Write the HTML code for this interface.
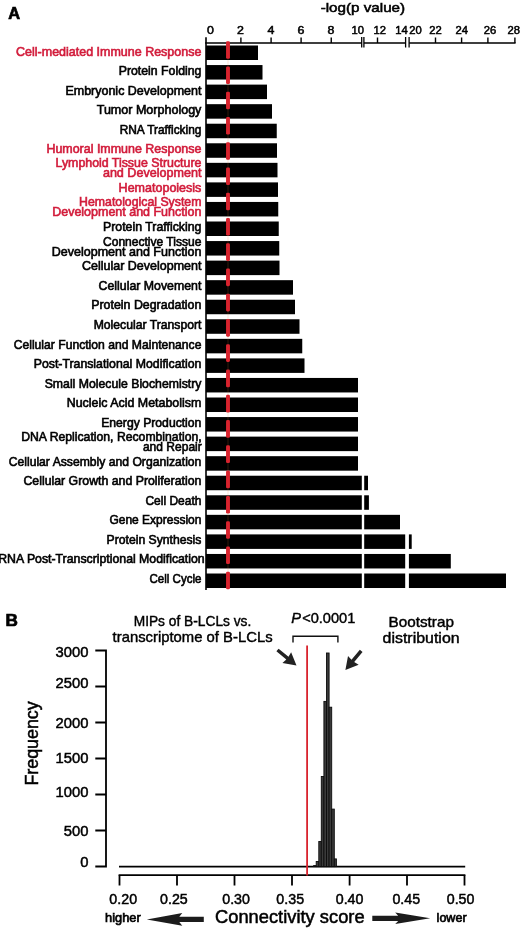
<!DOCTYPE html>
<html><head><meta charset="utf-8"><title>Figure</title>
<style>
html,body{margin:0;padding:0;background:#fff;}
body{width:520px;height:928px;overflow:hidden;}
svg{display:block;will-change:transform;}
text{font-family:"Liberation Sans",sans-serif;fill:#000;}
.lb{stroke:#000;stroke-width:0.6px;}
.r{fill:#d21c3b;stroke:#d21c3b;}
.sb{stroke:#000;stroke-width:0.42px;}
.sb2{stroke:#000;stroke-width:0.55px;}
.bd{stroke:#000;stroke-width:0.7px;}
.sb4{stroke:#000;stroke-width:0.65px;}
.sb3{stroke:#000;stroke-width:0.5px;}
</style></head>
<body>
<svg width="520" height="928" viewBox="0 0 520 928">
<rect width="520" height="928" fill="#fff"/>
<rect x="206.0" y="45.50" width="52.00" height="14.5" fill="#000"/>
<rect x="206.0" y="65.06" width="56.50" height="14.5" fill="#000"/>
<rect x="206.0" y="84.61" width="61.00" height="14.5" fill="#000"/>
<rect x="206.0" y="104.17" width="66.00" height="14.5" fill="#000"/>
<rect x="206.0" y="123.72" width="70.75" height="14.5" fill="#000"/>
<rect x="206.0" y="143.28" width="71.00" height="14.5" fill="#000"/>
<rect x="206.0" y="162.84" width="71.50" height="14.5" fill="#000"/>
<rect x="206.0" y="182.39" width="72.00" height="14.5" fill="#000"/>
<rect x="206.0" y="201.95" width="72.25" height="14.5" fill="#000"/>
<rect x="206.0" y="221.50" width="72.75" height="14.5" fill="#000"/>
<rect x="206.0" y="241.06" width="73.25" height="14.5" fill="#000"/>
<rect x="206.0" y="260.62" width="73.50" height="14.5" fill="#000"/>
<rect x="206.0" y="280.17" width="87.00" height="14.5" fill="#000"/>
<rect x="206.0" y="299.73" width="89.00" height="14.5" fill="#000"/>
<rect x="206.0" y="319.28" width="93.50" height="14.5" fill="#000"/>
<rect x="206.0" y="338.84" width="96.25" height="14.5" fill="#000"/>
<rect x="206.0" y="358.40" width="98.50" height="14.5" fill="#000"/>
<rect x="206.0" y="377.95" width="152.00" height="14.5" fill="#000"/>
<rect x="206.0" y="397.51" width="152.00" height="14.5" fill="#000"/>
<rect x="206.0" y="417.06" width="152.00" height="14.5" fill="#000"/>
<rect x="206.0" y="436.62" width="152.00" height="14.5" fill="#000"/>
<rect x="206.0" y="456.18" width="152.00" height="14.5" fill="#000"/>
<rect x="206.0" y="475.73" width="162.00" height="14.5" fill="#000"/>
<rect x="206.0" y="495.29" width="162.90" height="14.5" fill="#000"/>
<rect x="206.0" y="514.84" width="194.00" height="14.5" fill="#000"/>
<rect x="206.0" y="534.40" width="205.70" height="14.5" fill="#000"/>
<rect x="206.0" y="553.96" width="244.80" height="14.5" fill="#000"/>
<rect x="206.0" y="573.51" width="300.00" height="14.5" fill="#000"/>
<rect x="361.8" y="472" width="2.4" height="118" fill="#fff"/>
<rect x="405.2" y="531" width="3.7" height="59" fill="#fff"/>
<path d="M206 37.3V590" stroke="#000" stroke-width="1.6" fill="none"/>
<path d="M205.2 43H361.7M363.9 43H405.6M409.1 43H515.6" stroke="#000" stroke-width="1.5" fill="none"/>
<path d="M240.9 37.4V43M271.1 37.4V43M301.1 37.4V43M331.25 37.4V43M377.5 37.4V43M435.5 37.4V43M461.6 37.4V43M487.9 37.4V43M514.9 37.4V43" stroke="#000" stroke-width="1.4" fill="none"/>
<path d="M361.7 37V47.6M363.9 37V47.6M405.6 37V47.6M409.1 37V47.6" stroke="#000" stroke-width="1.3" fill="none"/>
<text x="210.4" y="33.5" font-size="10.9" text-anchor="middle" textLength="6.9" lengthAdjust="spacingAndGlyphs" class="sb3">0</text>
<text x="240.5" y="33.5" font-size="10.9" text-anchor="middle" textLength="6.9" lengthAdjust="spacingAndGlyphs" class="sb3">2</text>
<text x="271" y="33.5" font-size="10.9" text-anchor="middle" textLength="6.9" lengthAdjust="spacingAndGlyphs" class="sb3">4</text>
<text x="301" y="33.5" font-size="10.9" text-anchor="middle" textLength="6.9" lengthAdjust="spacingAndGlyphs" class="sb3">6</text>
<text x="331" y="33.5" font-size="10.9" text-anchor="middle" textLength="6.9" lengthAdjust="spacingAndGlyphs" class="sb3">8</text>
<text x="357.7" y="33.5" font-size="10.9" text-anchor="middle" textLength="12.5" lengthAdjust="spacingAndGlyphs" class="sb3">10</text>
<text x="379.7" y="33.5" font-size="10.9" text-anchor="middle" textLength="12.5" lengthAdjust="spacingAndGlyphs" class="sb3">12</text>
<text x="401.5" y="33.5" font-size="10.9" text-anchor="middle" textLength="12.5" lengthAdjust="spacingAndGlyphs" class="sb3">14</text>
<text x="415.5" y="33.5" font-size="10.9" text-anchor="middle" textLength="12.5" lengthAdjust="spacingAndGlyphs" class="sb3">20</text>
<text x="435.6" y="33.5" font-size="10.9" text-anchor="middle" textLength="12.5" lengthAdjust="spacingAndGlyphs" class="sb3">22</text>
<text x="461.8" y="33.5" font-size="10.9" text-anchor="middle" textLength="12.5" lengthAdjust="spacingAndGlyphs" class="sb3">24</text>
<text x="490" y="33.5" font-size="10.9" text-anchor="middle" textLength="12.5" lengthAdjust="spacingAndGlyphs" class="sb3">26</text>
<text x="513.8" y="33.5" font-size="10.9" text-anchor="middle" textLength="12.5" lengthAdjust="spacingAndGlyphs" class="sb3">28</text>
<text x="362.9" y="11.7" font-size="13.5" text-anchor="middle" textLength="84.5" lengthAdjust="spacingAndGlyphs" class="sb2">-log(p value)</text>
<text x="8.2" y="19.2" font-size="16.4" font-weight="bold" class="bd">A</text>
<path d="M228 41.4V589" stroke="#e8803a" stroke-opacity="0.3" stroke-width="0.7" fill="none"/>
<rect x="226.05" y="41.20" width="3.9" height="17.60" rx="1.3" fill="#d9232e"/>
<rect x="226.05" y="66.46" width="3.9" height="17.60" rx="1.3" fill="#d9232e"/>
<rect x="226.05" y="91.72" width="3.9" height="17.60" rx="1.3" fill="#d9232e"/>
<rect x="226.05" y="116.98" width="3.9" height="17.60" rx="1.3" fill="#d9232e"/>
<rect x="226.05" y="142.24" width="3.9" height="17.60" rx="1.3" fill="#d9232e"/>
<rect x="226.05" y="167.50" width="3.9" height="17.60" rx="1.3" fill="#d9232e"/>
<rect x="226.05" y="192.76" width="3.9" height="17.60" rx="1.3" fill="#d9232e"/>
<rect x="226.05" y="218.02" width="3.9" height="17.60" rx="1.3" fill="#d9232e"/>
<rect x="226.05" y="243.28" width="3.9" height="17.60" rx="1.3" fill="#d9232e"/>
<rect x="226.05" y="268.54" width="3.9" height="17.60" rx="1.3" fill="#d9232e"/>
<rect x="226.05" y="293.80" width="3.9" height="17.60" rx="1.3" fill="#d9232e"/>
<rect x="226.05" y="319.06" width="3.9" height="17.60" rx="1.3" fill="#d9232e"/>
<rect x="226.05" y="344.32" width="3.9" height="17.60" rx="1.3" fill="#d9232e"/>
<rect x="226.05" y="369.58" width="3.9" height="17.60" rx="1.3" fill="#d9232e"/>
<rect x="226.05" y="394.84" width="3.9" height="17.60" rx="1.3" fill="#d9232e"/>
<rect x="226.05" y="420.10" width="3.9" height="17.60" rx="1.3" fill="#d9232e"/>
<rect x="226.05" y="445.36" width="3.9" height="17.60" rx="1.3" fill="#d9232e"/>
<rect x="226.05" y="470.62" width="3.9" height="17.60" rx="1.3" fill="#d9232e"/>
<rect x="226.05" y="495.88" width="3.9" height="17.60" rx="1.3" fill="#d9232e"/>
<rect x="226.05" y="521.14" width="3.9" height="17.60" rx="1.3" fill="#d9232e"/>
<rect x="226.05" y="546.40" width="3.9" height="17.60" rx="1.3" fill="#d9232e"/>
<rect x="226.05" y="571.66" width="3.9" height="17.60" rx="1.3" fill="#d9232e"/>
<text x="16.099999999999998" y="55.90" font-size="12.2" textLength="185.30" lengthAdjust="spacingAndGlyphs" class="lb r">Cell-mediated Immune Response</text>
<text x="118.7" y="75.41" font-size="12.2" textLength="82.70" lengthAdjust="spacingAndGlyphs" class="lb">Protein Folding</text>
<text x="65.45" y="94.91" font-size="12.2" textLength="135.95" lengthAdjust="spacingAndGlyphs" class="lb">Embryonic Development</text>
<text x="96.7" y="114.42" font-size="12.2" textLength="104.70" lengthAdjust="spacingAndGlyphs" class="lb">Tumor Morphology</text>
<text x="119.7" y="133.93" font-size="12.2" textLength="81.70" lengthAdjust="spacingAndGlyphs" class="lb">RNA Trafficking</text>
<text x="46.400000000000006" y="153.44" font-size="12.2" textLength="155.00" lengthAdjust="spacingAndGlyphs" class="lb r">Humoral Immune Response</text>
<text x="55.5" y="167.40" font-size="12.2" textLength="145.90" lengthAdjust="spacingAndGlyphs" class="lb r">Lymphoid Tissue Structure</text>
<text x="102.9" y="176.90" font-size="12.2" textLength="98.50" lengthAdjust="spacingAndGlyphs" class="lb r">and Development</text>
<text x="118.60000000000001" y="192.45" font-size="12.2" textLength="82.80" lengthAdjust="spacingAndGlyphs" class="lb r">Hematopoiesis</text>
<text x="79.10000000000001" y="206.20" font-size="12.2" textLength="122.30" lengthAdjust="spacingAndGlyphs" class="lb r">Hematological System</text>
<text x="52.2" y="215.70" font-size="12.2" textLength="149.20" lengthAdjust="spacingAndGlyphs" class="lb r">Development and Function</text>
<text x="103.0" y="231.46" font-size="12.2" textLength="98.40" lengthAdjust="spacingAndGlyphs" class="lb">Protein Trafficking</text>
<text x="103.0" y="246.40" font-size="12.2" textLength="98.40" lengthAdjust="spacingAndGlyphs" class="lb">Connective Tissue</text>
<text x="51.7" y="256.00" font-size="12.2" textLength="149.70" lengthAdjust="spacingAndGlyphs" class="lb">Development and Function</text>
<text x="82.0" y="270.48" font-size="12.2" textLength="119.40" lengthAdjust="spacingAndGlyphs" class="lb">Cellular Development</text>
<text x="98.60000000000001" y="289.98" font-size="12.2" textLength="102.80" lengthAdjust="spacingAndGlyphs" class="lb">Cellular Movement</text>
<text x="91.2" y="309.49" font-size="12.2" textLength="110.20" lengthAdjust="spacingAndGlyphs" class="lb">Protein Degradation</text>
<text x="93.7" y="329.00" font-size="12.2" textLength="107.70" lengthAdjust="spacingAndGlyphs" class="lb">Molecular Transport</text>
<text x="13.7" y="348.50" font-size="12.2" textLength="187.70" lengthAdjust="spacingAndGlyphs" class="lb">Cellular Function and Maintenance</text>
<text x="33.7" y="368.01" font-size="12.2" textLength="167.70" lengthAdjust="spacingAndGlyphs" class="lb">Post-Translational Modification</text>
<text x="44.7" y="387.52" font-size="12.2" textLength="156.70" lengthAdjust="spacingAndGlyphs" class="lb">Small Molecule Biochemistry</text>
<text x="66.7" y="407.03" font-size="12.2" textLength="134.70" lengthAdjust="spacingAndGlyphs" class="lb">Nucleic Acid Metabolism</text>
<text x="101.2" y="426.53" font-size="12.2" textLength="100.20" lengthAdjust="spacingAndGlyphs" class="lb">Energy Production</text>
<text x="21.2" y="441.00" font-size="12.2" textLength="180.55" lengthAdjust="spacingAndGlyphs" class="lb">DNA Replication, Recombination,</text>
<text x="142.95" y="450.50" font-size="12.2" textLength="58.80" lengthAdjust="spacingAndGlyphs" class="lb">and Repair</text>
<text x="8.7" y="465.55" font-size="12.2" textLength="192.70" lengthAdjust="spacingAndGlyphs" class="lb">Cellular Assembly and Organization</text>
<text x="23.45" y="485.05" font-size="12.2" textLength="177.95" lengthAdjust="spacingAndGlyphs" class="lb">Cellular Growth and Proliferation</text>
<text x="145.45" y="504.56" font-size="12.2" textLength="55.95" lengthAdjust="spacingAndGlyphs" class="lb">Cell Death</text>
<text x="109.4" y="524.07" font-size="12.2" textLength="92.00" lengthAdjust="spacingAndGlyphs" class="lb">Gene Expression</text>
<text x="106.60000000000001" y="543.58" font-size="12.2" textLength="94.80" lengthAdjust="spacingAndGlyphs" class="lb">Protein Synthesis</text>
<text x="-1.8" y="563.08" font-size="12.2" textLength="206.50" lengthAdjust="spacingAndGlyphs" class="lb">RNA Post-Transcriptional Modification</text>
<text x="149.5" y="582.59" font-size="12.2" textLength="51.90" lengthAdjust="spacingAndGlyphs" class="lb">Cell Cycle</text>
<text x="5.4" y="625.6" font-size="17.2" font-weight="bold" class="bd">B</text>
<path d="M95.3 650.5H106V866.5H95.3" stroke="#000" stroke-width="1.8" fill="none" stroke-linejoin="miter"/>
<path d="M95.3 686.5H106M95.3 722.5H106M95.3 758.5H106M95.3 794.5H106M95.3 830.5H106" stroke="#000" stroke-width="1.8" fill="none"/>
<text x="88.4" y="657.4" font-size="14.8" text-anchor="end" class="sb3">3000</text>
<text x="88.4" y="688.3" font-size="14.8" text-anchor="end" class="sb3">2500</text>
<text x="88.4" y="727.8" font-size="14.8" text-anchor="end" class="sb3">2000</text>
<text x="88.4" y="763.1" font-size="14.8" text-anchor="end" class="sb3">1500</text>
<text x="88.4" y="797.0" font-size="14.8" text-anchor="end" class="sb3">1000</text>
<text x="88.4" y="836.4" font-size="14.8" text-anchor="end" class="sb3">500</text>
<text x="88.4" y="866.9" font-size="14.8" text-anchor="end" class="sb3">0</text>
<text transform="translate(37.8 785.6) rotate(-90)" font-size="18" textLength="84.3" lengthAdjust="spacingAndGlyphs" class="sb3">Frequency</text>
<path d="M119 866.6H465.2" stroke="#000" stroke-width="1.8" fill="none"/>
<path d="M118.6 875.2H465.4" stroke="#000" stroke-width="1.8" fill="none"/>
<path d="M119.5 875.2V885.5M177 875.2V885.5M234.5 875.2V885.5M292 875.2V885.5M349.6 875.2V885.5M407 875.2V885.5M464.5 875.2V885.5" stroke="#000" stroke-width="1.8" fill="none"/>
<text x="123.2" y="903.6" font-size="14.6" text-anchor="middle" textLength="27.7" lengthAdjust="spacingAndGlyphs" class="sb3">0.20</text>
<text x="173.9" y="903.6" font-size="14.6" text-anchor="middle" textLength="27.7" lengthAdjust="spacingAndGlyphs" class="sb3">0.25</text>
<text x="236.10000000000002" y="903.6" font-size="14.6" text-anchor="middle" textLength="27.7" lengthAdjust="spacingAndGlyphs" class="sb3">0.30</text>
<text x="290.2" y="903.6" font-size="14.6" text-anchor="middle" textLength="27.7" lengthAdjust="spacingAndGlyphs" class="sb3">0.35</text>
<text x="349.6" y="903.6" font-size="14.6" text-anchor="middle" textLength="27.7" lengthAdjust="spacingAndGlyphs" class="sb3">0.40</text>
<text x="406.3" y="903.6" font-size="14.6" text-anchor="middle" textLength="27.7" lengthAdjust="spacingAndGlyphs" class="sb3">0.45</text>
<text x="460.6" y="903.6" font-size="14.6" text-anchor="middle" textLength="27.7" lengthAdjust="spacingAndGlyphs" class="sb3">0.50</text>
<rect x="313.6" y="865.6" width="2.60" height="1.00" fill="#3a3a3a" stroke="#0c0c0c" stroke-width="0.9"/>
<rect x="316.2" y="861.5" width="2.60" height="5.10" fill="#3a3a3a" stroke="#0c0c0c" stroke-width="0.9"/>
<rect x="318.8" y="841.5" width="2.50" height="25.10" fill="#3a3a3a" stroke="#0c0c0c" stroke-width="0.9"/>
<rect x="321.3" y="776.5" width="2.60" height="90.10" fill="#3a3a3a" stroke="#0c0c0c" stroke-width="0.9"/>
<rect x="323.9" y="701.4" width="2.60" height="165.20" fill="#3a3a3a" stroke="#0c0c0c" stroke-width="0.9"/>
<rect x="326.5" y="653.0" width="2.60" height="213.60" fill="#3a3a3a" stroke="#0c0c0c" stroke-width="0.9"/>
<rect x="329.1" y="707.2" width="2.60" height="159.40" fill="#3a3a3a" stroke="#0c0c0c" stroke-width="0.9"/>
<rect x="331.7" y="809.1" width="2.60" height="57.50" fill="#3a3a3a" stroke="#0c0c0c" stroke-width="0.9"/>
<rect x="334.3" y="858.9" width="2.10" height="7.70" fill="#3a3a3a" stroke="#0c0c0c" stroke-width="0.9"/>
<path d="M307.1 645.4V875.6" stroke="#d9232e" stroke-width="1.8" fill="none"/>
<path d="M293 642.4V636.2H337.9V642.6" stroke="#111" stroke-width="1.4" fill="none"/>
<text x="133.7" y="625.8" font-size="14.5" textLength="117.6" lengthAdjust="spacingAndGlyphs" class="sb">MIPs of B-LCLs vs.</text>
<text x="112.6" y="641.8" font-size="14.5" textLength="160" lengthAdjust="spacingAndGlyphs" class="sb">transcriptome of B-LCLs</text>
<text x="291.2" y="623" font-size="14.6" class="sb"><tspan font-style="italic">P</tspan><tspan dx="1.2">&lt;0.0001</tspan></text>
<text x="388.6" y="627" font-size="14.5" textLength="65.3" lengthAdjust="spacingAndGlyphs" class="sb">Bootstrap</text>
<text x="382.6" y="643" font-size="14.5" textLength="77" lengthAdjust="spacingAndGlyphs" class="sb">distribution</text>
<polygon points="276.40,651.36 286.31,659.39 282.44,662.89 296.50,665.40 291.13,652.17 288.51,656.67 278.60,648.64" fill="#222"/>
<polygon points="359.85,649.69 351.48,659.85 348.01,655.96 345.40,670.00 358.67,664.73 354.19,662.08 362.55,651.91" fill="#222"/>
<polygon points="203.80,916.80 179.30,916.80 182.30,913.10 146.80,919.40 182.30,925.70 179.30,922.00 203.80,922.00" fill="#1c1c1c"/>
<polygon points="372.31,921.00 398.21,920.91 395.22,924.02 430.20,918.20 395.18,912.62 398.19,915.71 372.29,915.80" fill="#1c1c1c"/>
<text x="215" y="923" font-size="17.6" textLength="149.6" lengthAdjust="spacingAndGlyphs" class="sb3">Connectivity score</text>
<text x="105.1" y="922.2" font-size="12.2" textLength="35.6" lengthAdjust="spacingAndGlyphs" class="sb4">higher</text>
<text x="436.6" y="922.2" font-size="12.2" textLength="30" lengthAdjust="spacingAndGlyphs" class="sb4">lower</text>
</svg>
</body></html>
